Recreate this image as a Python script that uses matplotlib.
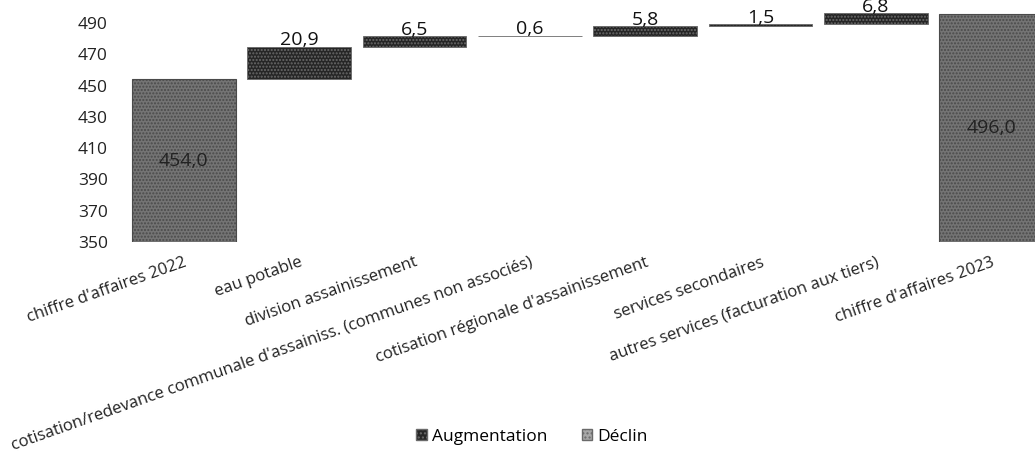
import matplotlib
matplotlib.use("Agg")
import matplotlib.pyplot as plt
from matplotlib.patches import Patch
import numpy as np

categories = ["chiffre d'affaires 2022", "eau potable", "division assainissement",
              "cotisation/redevance communale d'assainiss. (communes non associés)",
              "cotisation régionale d'assainissement", "services secondaires",
              "autres services (facturation aux tiers)", "chiffre d'affaires 2023"]
start_total = 454.0
increments = [20.9, 6.5, 0.6, 5.8, 1.5, 6.8]
end_total = 496.0
y_ticks = [350, 370, 390, 410, 430, 450, 470, 490]
y_min, y_max = 350, 500

plt.rcParams['font.family'] = ['Open Sans', 'DejaVu Sans']

fig = plt.figure(figsize=(10.35, 4.57), dpi=100)
ax = fig.add_axes([126/1035, 1 - 242/457, (1049 - 126)/1035, (242 - 7.4)/457])

x = np.arange(len(categories))
width = 0.9
total_color = '#747474'
inc_color = '#262626'

def fmt(v):
    return f"{v:.1f}".replace('.', ',')

# start total
ax.bar(x[0], start_total - y_min, bottom=y_min, width=width, color=total_color,
       edgecolor='#4a4a4a', hatch='.....', linewidth=0.8)
ax.text(x[0], (y_min + start_total) / 2, fmt(start_total), ha='center', va='center',
        fontsize=14, color='#222222')

level = start_total
for i, inc in enumerate(increments):
    xi = x[i + 1]
    ax.bar(xi, inc, bottom=level, width=width, color=inc_color,
           edgecolor='#6a6a6a', hatch='.....', linewidth=0.6)
    ax.text(xi, level + inc - 1.8, fmt(inc), ha='center', va='bottom', fontsize=14,
            color='#111111')
    level += inc

ax.bar(x[-1], end_total - y_min, bottom=y_min, width=width, color=total_color,
       edgecolor='#4a4a4a', hatch='.....', linewidth=0.8)
ax.text(x[-1], (y_min + end_total) / 2, fmt(end_total), ha='center', va='center',
        fontsize=14, color='#222222')

ax.set_xlim(-0.5, len(categories) - 0.5)
ax.set_ylim(y_min, y_max)
ax.set_yticks(y_ticks)
ax.set_yticklabels([str(t) for t in y_ticks], fontsize=12.5, color='#222222')
ax.tick_params(axis='y', length=0, pad=13)
ax.set_xticks(x)
ax.set_xticklabels(categories, rotation=19.5, ha='right', va='top',
                   rotation_mode='anchor', fontsize=12, color='#222222')
ax.tick_params(axis='x', length=0, pad=9)
for s in ax.spines.values():
    s.set_visible(False)

handles = [Patch(facecolor=inc_color, edgecolor='#6a6a6a', hatch='....', label='Augmentation'),
           Patch(facecolor='#a8a8a8', edgecolor='#6a6a6a', hatch='....', label='Déclin')]
fig.legend(handles=handles, loc='center', bbox_to_anchor=(532/1035, 1 - 437/457),
           ncol=2, frameon=False, fontsize=12.5, handlelength=0.6, handleheight=0.6,
           handletextpad=0.3, columnspacing=2.0)

fig.savefig("out.png", dpi=100)
